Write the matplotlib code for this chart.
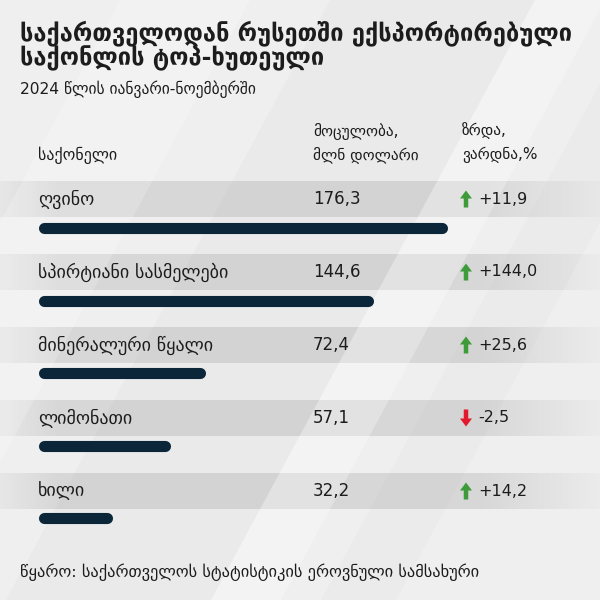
import numpy as np
import matplotlib.pyplot as plt
from matplotlib.patches import Polygon

# data
goods = ['ღვინო', 'სპირტიანი სასმელები', 'მინერალური წყალი', 'ლიმონათი', 'ხილი']
volume = [176.3, 144.6, 72.4, 57.1, 32.2]
change = [11.9, 144.0, 25.6, -2.5, 14.2]

title_lines = ['საქართველოდან რუსეთში ექსპორტირებული', 'საქონლის ტოპ-ხუთეული']
subtitle = '2024 წლის იანვარი-ნოემბერში'
source = 'წყარო: საქართველოს სტატისტიკის ეროვნული სამსახური'

bg = '#efefef'
navy = '#0b2638'
ink = '#1c1c1c'
green = '#3d9b3a'
red = '#e2192c'

plt.rcParams['font.family'] = ['DejaVu Sans']

fig = plt.figure(figsize=(6, 6), dpi=100, facecolor=bg)
ax = fig.add_axes([0, 0, 1, 1])
ax.set_xlim(0, 600)
ax.set_ylim(600, 0)
ax.axis('off')
ax.set_facecolor(bg)

# row bands with soft fade at the edges
prof = np.ones(600)
prof[:60] = np.linspace(0.35, 1, 60)
prof[480:] = np.linspace(1, 0.15, 120)
band = np.zeros((1, 600, 4))
band[..., :3] = 0.845
band[..., 3] = prof
row_top = 181
row_step = 73
for i in range(len(goods)):
    t = row_top + row_step * i
    ax.imshow(band, extent=(0, 600, t + 36, t), aspect='auto', zorder=1)

# diagonal background stripes
def stripe(x_top_a, x_top_b, color, alpha):
    k = 0.54
    pts = [(x_top_a, 0), (x_top_b, 0), (x_top_b - k * 600, 600), (x_top_a - k * 600, 600)]
    ax.add_patch(Polygon(pts, closed=True, color=color, alpha=alpha, lw=0, zorder=2))

stripe(330, 535, '#b0b0b0', 0.08)
stripe(535, 605, '#ffffff', 0.28)
stripe(645, 720, '#b0b0b0', 0.06)
stripe(120, 250, '#ffffff', 0.2)

# titles
ax.text(20, 33, title_lines[0], fontsize=17, fontweight='bold', color=ink,
        va='center', ha='left', zorder=5)
ax.text(20, 58, title_lines[1], fontsize=17, fontweight='bold', color=ink,
        va='center', ha='left', zorder=5)
ax.text(20, 89, subtitle, fontsize=11.2, color=ink, va='center', zorder=5)

# column headers
ax.text(38, 155, 'საქონელი', fontsize=11.5, color=ink, va='center', zorder=5)
ax.text(313, 131, 'მოცულობა,', fontsize=11, color=ink, va='center', zorder=5)
ax.text(313, 155, 'მლნ დოლარი', fontsize=11, color=ink, va='center', zorder=5)
ax.text(462, 131, 'ზრდა,', fontsize=11, color=ink, va='center', zorder=5)
ax.text(462, 155, 'ვარდნა,%', fontsize=11, color=ink, va='center', zorder=5)

# rows
for i, (name, v, c) in enumerate(zip(goods, volume, change)):
    yc = row_top + row_step * i + 18
    ax.text(38, yc, name, fontsize=13, color=ink, va='center', zorder=5)
    ax.text(313, yc, f'{v:.1f}'.replace('.', ','), fontsize=12, color=ink,
            va='center', zorder=5)
    sign = '+' if c > 0 else '-'
    ax.text(478, yc, sign + f'{abs(c):.1f}'.replace('.', ','), fontsize=11.5,
            color=ink, va='center', zorder=5)
    if c > 0:
        ax.arrow(466, yc + 8.5, 0, -17, width=4.5, head_width=12, head_length=8,
                 length_includes_head=True, color=green, lw=0, zorder=5)
    else:
        ax.arrow(466, yc - 8.5, 0, 17, width=4.5, head_width=12, head_length=8,
                 length_includes_head=True, color=red, lw=0, zorder=5)

# bars in their own axes, x in million USD
px_per_unit = 2.32
x_max = 240
bx = fig.add_axes([38 / 600, 0, x_max * px_per_unit / 600, 1])
bx.set_xlim(0, x_max)
bx.set_ylim(600, 0)
bx.axis('off')
bx.patch.set_alpha(0)
cap = 5.5 / px_per_unit
for i, v in enumerate(volume):
    yb = 228 + 72.5 * i
    bx.plot([cap, v - cap], [yb, yb], color=navy, lw=8, solid_capstyle='round', zorder=5)

ax.text(20, 572, source, fontsize=11.8, color=ink, va='center', zorder=5)

fig.savefig('out.png', dpi=100, facecolor=bg)
